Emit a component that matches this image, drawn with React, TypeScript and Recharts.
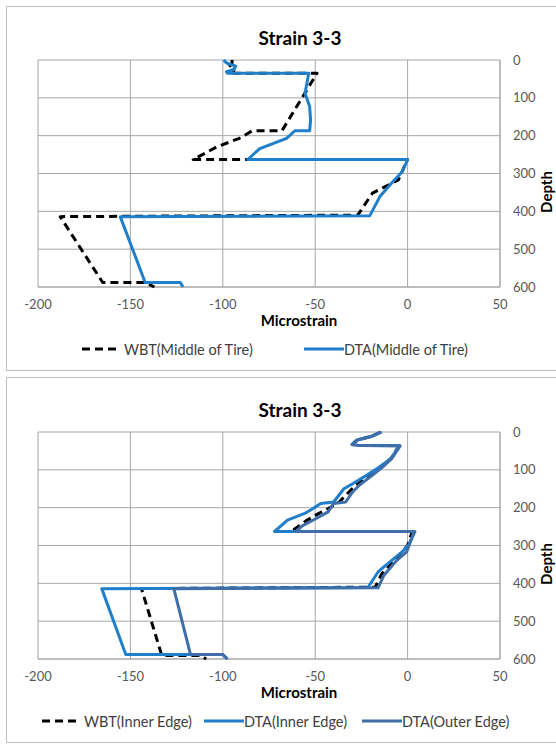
import { ScatterChart, Scatter, XAxis, YAxis, CartesianGrid } from "recharts";

const xTicks = [-200, -150, -100, -50, 0, 50];
const depthTicks = [0, 100, 200, 300, 400, 500, 600];

// Middle of tire profiles
const wbtMiddleX = [-95, -95, -97, -94, -97, -49, -68, -84, -91, -103, -116, 0, -5, -19, -27, -188, -165, -142, -137];
const wbtMiddleDepth = [0, 10, 20, 28, 35, 35, 187, 187, 207, 229, 263, 263, 317, 352, 410, 414, 588, 588, 600];

const dtaMiddleX = [-99.5, -98, -93, -94, -98, -97.5, -53.5, -55.5, -53, -52.5, -53, -61, -65.5, -80, -86.5, 0, -3, -8, -15, -20.5, -155.5, -142, -123, -121.5];
const dtaMiddleDepth = [0, 8, 16, 25, 31, 35, 35, 88, 123, 159, 187, 187, 207, 234, 263, 263, 296, 322, 361, 412, 414, 588, 588, 600];

// Edge profiles
const wbtInnerX = [-14.5, -20, -27.5, -30, -26, -4.5, -9, -15, -21, -28, -32, -37, -42, -48, -55, -63, 2.5, 0, -5, -14, -17.5, -144, -133, -112, -109];
const wbtInnerDepth = [0, 12, 21, 33, 36, 36, 70, 93, 116, 140, 160, 185, 200, 215, 235, 263, 263, 300, 330, 375, 410, 414, 591, 591, 600];

const dtaInnerX = [-14.5, -20, -27.5, -30, -26, -4.5, -9, -15, -22, -29.5, -34.5, -40, -47, -52, -56, -65, -72, 4, 0.5, -3, -13, -16, -21.5, -165.5, -152.5, -100, -97.5];
const dtaInnerDepth = [0, 12, 21, 33, 36, 36, 70, 92, 114, 136, 150, 185, 189, 205, 216, 233, 263, 263, 299, 317, 357, 370, 411, 414, 588, 588, 600];

const dtaOuterX = [-14, -19.5, -27, -29.5, -25.5, -4, -8.5, -14, -20, -26, -30, -33.5, -40, -43, -50, -57, -60.5, 3.5, -0.5, -6, -13, -16, -126.5, -117.5, -100, -97.5];
const dtaOuterDepth = [0, 12, 21, 33, 36, 37, 70, 95, 118, 140, 160, 185, 189, 211, 230, 248, 263, 263, 317, 340, 380, 412, 414, 588, 588, 600];

const BLUE = "#1f7fcb";
const STEEL = "#3f6ea8";
const GRID = "#a6a6a6";
const TICK = "#595959";

interface SeriesDef {
  name: string;
  xs: number[];
  depths: number[];
  color: string;
  dashed?: boolean;
}

const toPoints = (xs: number[], depths: number[]) => xs.map((x, i) => ({ x, depth: depths[i] }));

const middleSeries: SeriesDef[] = [
  { name: "WBT(Middle of Tire)", xs: wbtMiddleX, depths: wbtMiddleDepth, color: "#000", dashed: true },
  { name: "DTA(Middle of Tire)", xs: dtaMiddleX, depths: dtaMiddleDepth, color: BLUE },
];

const edgeSeries: SeriesDef[] = [
  { name: "WBT(Inner Edge)", xs: wbtInnerX, depths: wbtInnerDepth, color: "#000", dashed: true },
  { name: "DTA(Inner Edge)", xs: dtaInnerX, depths: dtaInnerDepth, color: BLUE },
  { name: "DTA(Outer Edge)", xs: dtaOuterX, depths: dtaOuterDepth, color: STEEL },
];

const NoDot = () => <g />;

function LegendRow({ series, lefts }: { series: SeriesDef[]; lefts: number[] }) {
  return (
    <>
      {series.map((s, i) => (
        <div
          key={s.name}
          style={{ position: "absolute", left: lefts[i], top: 339, height: 20, display: "flex", alignItems: "center", whiteSpace: "nowrap" }}
        >
          <svg width={s.dashed ? 42 : 40} height={20}>
            <line
              x1={0}
              y1={10}
              x2={s.dashed ? 34 : 40}
              y2={10}
              stroke={s.color}
              strokeWidth={3}
              strokeDasharray={s.dashed ? "8 5" : undefined}
            />
          </svg>
          <span style={{ fontSize: 14.5, color: "#404040" }}>{s.name}</span>
        </div>
      ))}
    </>
  );
}

function StrainPanel({ top, frameTop, series, lefts }: { top: number; frameTop: number; series: SeriesDef[]; lefts: number[] }) {
  return (
    <div style={{ position: "absolute", left: 0, top, width: 556, height: 372 }}>
      <div
        style={{ position: "absolute", left: 6, top: frameTop, width: 600, height: 372 - frameTop - 1, border: "1px solid #bfbfbf", boxSizing: "border-box" }}
      />
      <div style={{ position: "absolute", left: 200, top: 26, width: 200, textAlign: "center", fontSize: 19, fontWeight: 700, lineHeight: "24px" }}>
        Strain 3-3
      </div>
      <div style={{ position: "absolute", left: 0, top: 0 }}>
        <ScatterChart width={556} height={372} margin={{ top: 60, right: 16, bottom: 45, left: 38 }}>
          <CartesianGrid stroke={GRID} horizontalValues={depthTicks} verticalValues={xTicks} />
          <XAxis
            type="number"
            dataKey="x"
            domain={[-200, 50]}
            ticks={xTicks}
            allowDataOverflow
            height={40}
            tickSize={0}
            tickMargin={13}
            axisLine={{ stroke: GRID }}
            tick={{ fill: TICK, fontSize: 13 }}
          />
          <YAxis
            type="number"
            dataKey="depth"
            domain={[0, 600]}
            ticks={depthTicks}
            reversed
            orientation="right"
            width={40}
            tickSize={0}
            tickMargin={13}
            axisLine={{ stroke: GRID }}
            tick={{ fill: TICK, fontSize: 13, textAnchor: "start" }}
          />
          {series.map((s) => (
            <Scatter
              key={s.name}
              name={s.name}
              data={toPoints(s.xs, s.depths)}
              fill={s.color}
              shape={NoDot}
              line={{
                stroke: s.color,
                strokeWidth: 3,
                strokeDasharray: s.dashed ? "8 5" : undefined,
                strokeLinejoin: "round",
              }}
              isAnimationActive={false}
            />
          ))}
        </ScatterChart>
      </div>
      <div style={{ position: "absolute", left: 199, top: 312, width: 200, textAlign: "center", fontSize: 15, fontWeight: 700, lineHeight: "17px" }}>
        Microstrain
      </div>
      <div
        style={{
          position: "absolute",
          left: 546 - 30,
          top: 192 - 9,
          width: 60,
          textAlign: "center",
          fontSize: 15,
          fontWeight: 700,
          lineHeight: "18px",
          transform: "rotate(-90deg)",
        }}
      >
        Depth
      </div>
      <LegendRow series={series} lefts={lefts} />
    </div>
  );
}

export default function App() {
  return (
    <div
      style={{
        position: "absolute",
        left: 0,
        top: 0,
        width: 556,
        height: 744,
        overflow: "hidden",
        background: "#fff",
        fontFamily: "Lato, 'Open Sans', sans-serif",
      }}
    >
      <StrainPanel top={0} frameTop={6} series={middleSeries} lefts={[82, 304]} />
      <StrainPanel top={372} frameTop={5} series={edgeSeries} lefts={[42, 204, 362]} />
    </div>
  );
}
